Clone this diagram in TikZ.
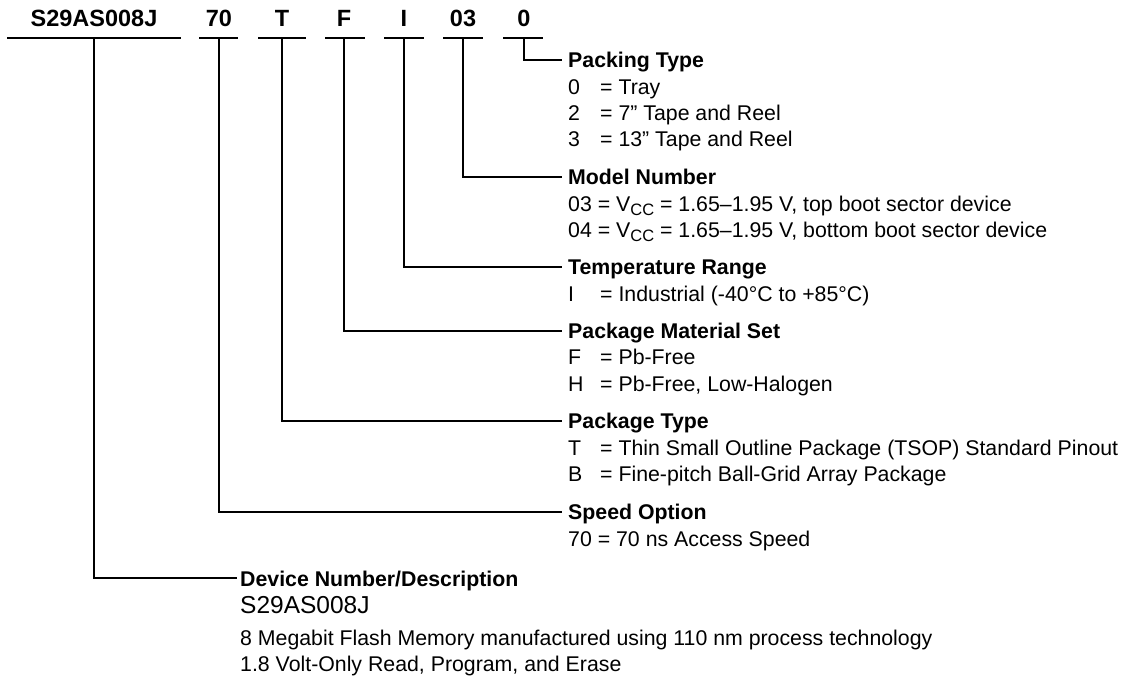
\documentclass[tikz,border=0pt]{standalone}
\usepackage{fontspec}
\setmainfont{Liberation Sans}
\newcommand{\cd}[1]{\makebox[32pt][l]{#1}}
\newcommand{\vcc}{V\raisebox{-4.5pt}{\fontsize{16.5}{16.5}\selectfont CC}}
\begin{document}
\begin{tikzpicture}[x=1pt,y=-1pt,
  code/.style={font=\fontsize{23.5}{24}\selectfont\bfseries, anchor=base, inner sep=0pt},
  ttl/.style={font=\fontsize{21.3}{24}\selectfont\bfseries, anchor=base west, inner sep=0pt},
  itm/.style={font=\fontsize{21.3}{24}\selectfont, anchor=base west, inner sep=0pt},
  thk/.style={line width=2.4pt},
  thn/.style={line width=1.2pt}]
\useasboundingbox (0,0) rectangle (1122,677);

% part-number fields
\node[code] (c1) at (94,27) {S29AS008J};
\node[code] (c2) at (219,27) {70};
\node[code] (c3) at (282,27) {T};
\node[code] (c4) at (344,27) {F};
\node[code] (c5) at (404,27) {I};
\node[code] (c6) at (463,27) {03};
\node[code] (c7) at (524,27) {0};

% underlines
\draw[thk] (7,38) -- (181,38);
\draw[thk] (199,38) -- (238,38);
\draw[thk] (258,38) -- (306,38);
\draw[thk] (325,38) -- (365,38);
\draw[thk] (384,38) -- (424,38);
\draw[thn] (443,38) -- (483,38);
\draw[thn] (503,38) -- (543,38);

\coordinate (u1) at (94,38);
\coordinate (u2) at (219,38);
\coordinate (u3) at (282,38);
\coordinate (u4) at (344,38);
\coordinate (u5) at (404,38);
\coordinate (u6) at (463,38);
\coordinate (u7) at (524,38);

\coordinate (e7) at (562,60);
\coordinate (e6) at (562,177);
\coordinate (e5) at (562,267);
\coordinate (e4) at (562,331);
\coordinate (e3) at (562,421);
\coordinate (e2) at (562,512);
\coordinate (e1) at (237,578);

\draw[thn] (u7) |- (e7);
\draw[thn] (u6) |- (e6);
\draw[thk] (u5) |- (e5);
\draw[thk] (u4) |- (e4);
\draw[thk] (u3) |- (e3);
\draw[thk] (u2) |- (e2);
\draw[thk] (u1) |- (e1);

% Packing Type
\node[ttl] (t7) at (568,67) {Packing Type};
\node[itm] (t7a) at (568,94) {\cd{0}= Tray};
\node[itm] (t7b) at (568,120) {\cd{2}= 7” Tape and Reel};
\node[itm] (t7c) at (568,146) {\cd{3}= 13” Tape and Reel};

% Model Number
\node[ttl] (t6) at (568,184) {Model Number};
\node[itm] (t6a) at (568,211) {03 = \vcc{} = 1.65–1.95 V, top boot sector device};
\node[itm] (t6b) at (568,237) {04 = \vcc{} = 1.65–1.95 V, bottom boot sector device};

% Temperature Range
\node[ttl] (t5) at (568,274) {Temperature Range};
\node[itm] (t5a) at (568,301) {\cd{I}= Industrial (-40°C to +85°C)};

% Package Material Set
\node[ttl] (t4) at (568,338) {Package Material Set};
\node[itm] (t4a) at (568,364) {\cd{F}= Pb-Free};
\node[itm] (t4b) at (568,391) {\cd{H}= Pb-Free, Low-Halogen};

% Package Type
\node[ttl] (t3) at (568,428) {Package Type};
\node[itm] (t3a) at (568,455) {\cd{T}= Thin Small Outline Package (TSOP) Standard Pinout};
\node[itm] (t3b) at (568,481) {\cd{B}= Fine-pitch Ball-Grid Array Package};

% Speed Option
\node[ttl] (t2) at (568,519) {Speed Option};
\node[itm] (t2a) at (568,546) {70 = 70 ns Access Speed};

% Device Number
\node[ttl] (t1) at (240,586) {Device Number/Description};
\node[itm, font=\fontsize{24.5}{26}\selectfont] (t1a) at (240,613) {S29AS008J};
\node[itm] (t1b) at (240,645) {8 Megabit Flash Memory manufactured using 110 nm process technology};
\node[itm] (t1c) at (240,671) {1.8 Volt-Only Read, Program, and Erase};
\end{tikzpicture}
\end{document}
